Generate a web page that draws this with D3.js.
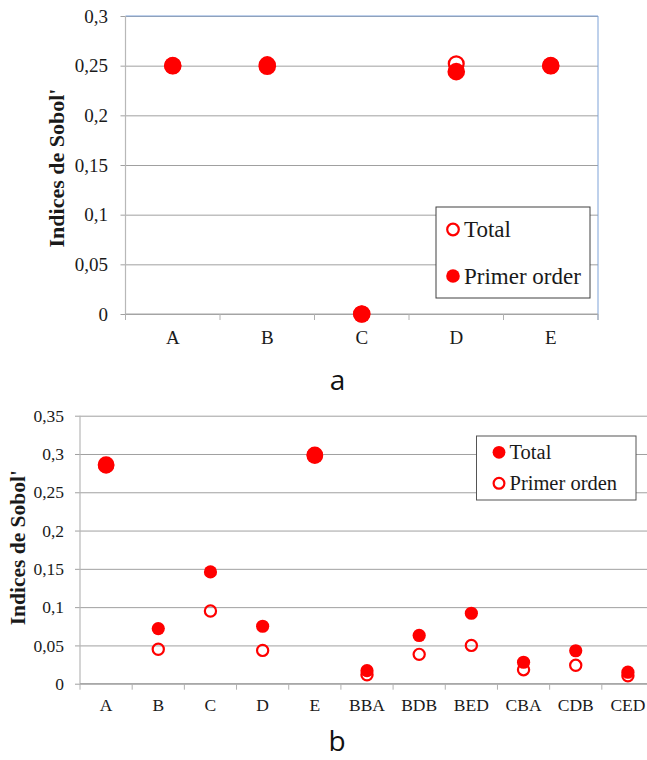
<!DOCTYPE html>
<html>
<head>
<meta charset="utf-8">
<script src="https://cdn.jsdelivr.net/npm/d3@7"></script>
<style>
  html, body { margin: 0; padding: 0; background: #fff; }
  svg { display: block; }
</style>
</head>
<body>
<svg id="fig" width="647" height="760"></svg>
<script>
// Panel a: five factors
const catsA = ["A", "B", "C", "D", "E"];
const totalA = [0.25, 0.251, 0, 0.252, 0.25];
const primerA = [0.25, 0.2495, 0, 0.244, 0.25];
const yTicksA = [0, 0.05, 0.1, 0.15, 0.2, 0.25, 0.3];
const yTickLabelsA = ["0", "0,05", "0,1", "0,15", "0,2", "0,25", "0,3"];
const legendA = ["Total", "Primer order"];

// Panel b: factors and their interactions
const catsB = ["A", "B", "C", "D", "E", "BBA", "BDB", "BED", "CBA", "CDB", "CED"];
const totalB = [0.286, 0.072, 0.146, 0.075, 0.298, 0.017, 0.063, 0.092, 0.028, 0.043, 0.015];
const primerB = [0.285, 0.045, 0.095, 0.0435, 0.299, 0.0117, 0.0383, 0.05, 0.0183, 0.024, 0.0104];
const yTicksB = [0, 0.05, 0.1, 0.15, 0.2, 0.25, 0.3, 0.35];
const yTickLabelsB = ["0", "0,05", "0,1", "0,15", "0,2", "0,25", "0,3", "0,35"];
const legendB = ["Total", "Primer orden"];

const yTitle = "Indices de Sobol'";
const RED = "#ff0000";
const SERIF = "'Liberation Serif', 'Times New Roman', Times, serif";
const svg = d3.select("#fig");

function serif(sel, size) {
  return sel.style("font-family", SERIF).style("font-size", size + "px").attr("fill", "#1a1a1a");
}

function panel(o) {
  const g = svg.append("g");
  const x = d3.scaleBand().domain(o.cats).range([o.left, o.right]);
  const y = d3.scaleLinear().domain(o.yDomain).range([o.bottom, o.top]);

  // horizontal gridlines + value labels
  const ya = g.append("g").attr("transform", `translate(${o.left},0)`)
    .call(d3.axisLeft(y).tickValues(o.yTicks)
      .tickFormat((d, i) => o.yLabels[i])
      .tickSizeInner(-(o.gridRight - o.left)).tickSizeOuter(0).tickPadding(o.yPad));
  ya.select(".domain").remove();
  ya.selectAll(".tick line").attr("x1", -5).attr("stroke", "#a0a0a0").attr("stroke-width", 1);
  serif(ya.selectAll(".tick text"), o.tickFont);

  // plot frame
  if (o.frame) {
    g.append("line").attr("x1", o.left).attr("x2", o.right).attr("y1", y(o.yDomain[1])).attr("y2", y(o.yDomain[1]))
      .attr("stroke", "#7ea3d8").attr("stroke-width", 1);
    g.append("line").attr("x1", o.right).attr("x2", o.right).attr("y1", y(o.yDomain[1])).attr("y2", y(0) + 6)
      .attr("stroke", "#7ea3d8").attr("stroke-width", 1);
  }
  g.append("line").attr("x1", o.left).attr("x2", o.left).attr("y1", y(o.yDomain[1])).attr("y2", y(0))
    .attr("stroke", "#b8b8b8").attr("stroke-width", 1.2);

  // category axis
  const xa = g.append("g").attr("transform", `translate(0,${y(0)})`)
    .call(d3.axisBottom(x).tickSize(0).tickPadding(o.xPad));
  xa.select(".domain").remove();
  serif(xa.selectAll(".tick text"), o.tickFont);
  g.append("line").attr("x1", o.left).attr("x2", Math.min(o.right, 647)).attr("y1", y(0)).attr("y2", y(0))
    .attr("stroke", "#a8a8a8").attr("stroke-width", 1.2);
  const bounds = o.cats.map(c => x(c)).concat([o.right]);
  g.selectAll(".btick").data(bounds).join("line")
    .attr("x1", d => d).attr("x2", d => d).attr("y1", y(0)).attr("y2", y(0) + 6)
    .attr("stroke", "#b0b0b0").attr("stroke-width", 1);

  // axis title
  serif(g.append("text"), o.titleFont)
    .attr("transform", `translate(${o.titleX},${(y(o.yDomain[1]) + y(0)) / 2 + o.titleShift}) rotate(-90)`)
    .attr("text-anchor", "middle").style("font-weight", "bold")
    .text(yTitle);

  // markers: each series in drawing order
  o.series.forEach(s => {
    g.selectAll(null).data(o.cats.map((c, i) => ({ c, v: s.values[i] }))).join("circle")
      .attr("cx", d => x(d.c) + x.bandwidth() / 2)
      .attr("cy", d => y(d.v))
      .attr("r", d => (s.filled ? o.rFill : o.rOpen) * (o.big && o.big.includes(d.c) ? o.bigScale : 1))
      .attr("fill", s.filled ? RED : "none")
      .attr("stroke", s.filled ? "none" : RED)
      .attr("stroke-width", s.filled ? 0 : o.openStroke);
  });

  // legend
  const L = o.legend;
  g.append("rect").attr("x", L.x).attr("y", L.y).attr("width", L.w).attr("height", L.h)
    .attr("fill", "#fff").attr("stroke", L.stroke).attr("stroke-width", 1);
  L.items.forEach((it, i) => {
    const cy = L.rowY[i];
    g.append("circle").attr("cx", L.mx).attr("cy", cy)
      .attr("r", it.filled ? L.rFill : L.rOpen)
      .attr("fill", it.filled ? RED : "#fff")
      .attr("stroke", it.filled ? "none" : RED).attr("stroke-width", it.filled ? 0 : 2.2);
    serif(g.append("text"), L.font).attr("x", L.tx).attr("y", cy).attr("dy", "0.33em").text(it.label);
  });

  // panel caption
  svg.append("text").attr("x", o.capX).attr("y", o.capY).attr("text-anchor", "middle")
    .style("font-family", "'Open Sans', 'Noto Sans', sans-serif").style("font-size", "28px")
    .attr("fill", "#111").text(o.caption);
}

panel({
  cats: catsA, yDomain: [0, 0.3], yTicks: yTicksA, yLabels: yTickLabelsA,
  left: 125.5, right: 598, top: 16, bottom: 314, gridRight: 598,
  yPad: 17.5, xPad: 16.5, tickFont: 19, frame: true,
  titleX: 64, titleShift: 3, titleFont: 22,
  rFill: 8.8, rOpen: 7.4, openStroke: 2.3,
  series: [{ values: totalA, filled: false }, { values: primerA, filled: true }],
  legend: {
    x: 436, y: 207, w: 154, h: 91, stroke: "#404040", mx: 453, tx: 464, rowY: [229.5, 276],
    rFill: 6.8, rOpen: 5.8, font: 23,
    items: [{ label: legendA[0], filled: false }, { label: legendA[1], filled: true }]
  },
  caption: "a", capX: 337.5, capY: 390
});

panel({
  cats: catsB, yDomain: [0, 0.35], yTicks: yTicksB, yLabels: yTickLabelsB,
  left: 80, right: 654, top: 415.7, bottom: 683.7, gridRight: 654,
  yPad: 16, xPad: 14.8, tickFont: 17.5, frame: false,
  titleX: 25, titleShift: -2, titleFont: 21.5,
  rFill: 6.6, rOpen: 5.6, openStroke: 2.2, big: ["A", "E"], bigScale: 1.27,
  series: [{ values: totalB, filled: true }, { values: primerB, filled: false }],
  legend: {
    x: 476.5, y: 436, w: 159.5, h: 64, stroke: "#555", mx: 499, tx: 509.5, rowY: [452.3, 483.3],
    rFill: 6.4, rOpen: 5.4, font: 20.5,
    items: [{ label: legendB[0], filled: true }, { label: legendB[1], filled: false }]
  },
  caption: "b", capX: 337, capY: 751
});
</script>
</body>
</html>
